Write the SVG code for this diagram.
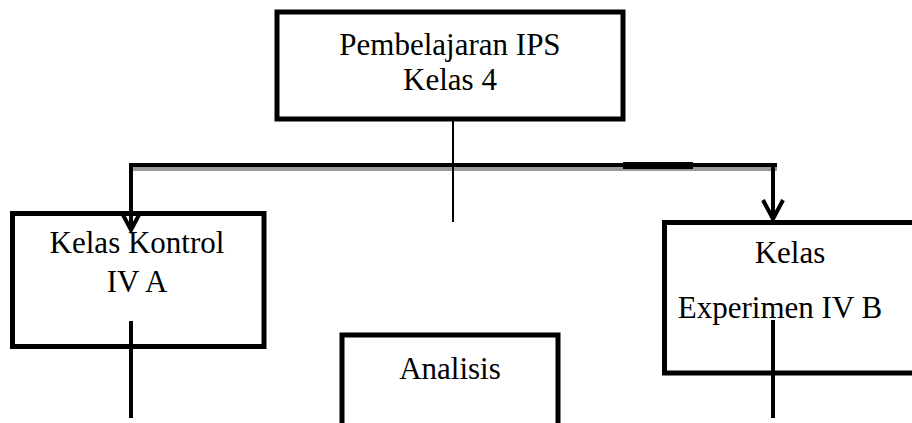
<svg xmlns="http://www.w3.org/2000/svg" width="912" height="423" viewBox="0 0 912 423">
<style>
.box{fill:#fff;stroke:#000;stroke-width:5}
.t{font-family:"Liberation Serif","Times New Roman",serif;font-size:31px;fill:#000;text-anchor:middle}
.ln{stroke:#000;stroke-width:4;fill:none}
.sh{stroke:#999;stroke-width:4;fill:none}
</style>
<rect width="912" height="423" fill="#fff"/>
<g id="node-top">
<rect class="box" x="277" y="12" width="346" height="107"/>
<text class="t" x="450" y="55">Pembelajaran IPS</text>
<text class="t" x="450" y="90">Kelas 4</text>
</g>
<g id="node-kontrol">
<rect class="box" x="12.5" y="213.5" width="251.5" height="133"/>
<text class="t" x="137" y="253">Kelas Kontrol</text>
<text class="t" x="137" y="292">IV A</text>
</g>
<g id="node-experimen">
<rect class="box" x="664.5" y="222.5" width="260" height="150.5"/>
<text class="t" x="790" y="263">Kelas</text>
<text class="t" x="780" y="318">Experimen IV B</text>
</g>
<g id="node-analisis">
<rect class="box" x="342" y="335" width="216" height="100" stroke-width="6"/>
<text class="t" x="450" y="379">Analisis</text>
</g>
<g id="connectors">
<line class="sh" x1="133" y1="169" x2="777" y2="169"/>
<line class="ln" x1="129" y1="165" x2="777" y2="165"/>
<line x1="623" y1="165.5" x2="693" y2="165.5" stroke="#000" stroke-width="7"/>
<line x1="453" y1="121" x2="453" y2="222" stroke="#000" stroke-width="2"/>
<line class="ln" x1="131" y1="167" x2="131" y2="230"/>
<polyline class="ln" points="122,213 131,230 140,213"/>
<line class="ln" x1="773" y1="167" x2="773" y2="219"/>
<polyline class="ln" points="763,200 773,219 783,200"/>
<line class="ln" x1="131" y1="321" x2="131" y2="418"/>
<line class="ln" x1="773" y1="320" x2="773" y2="418"/>
</g>
</svg>
